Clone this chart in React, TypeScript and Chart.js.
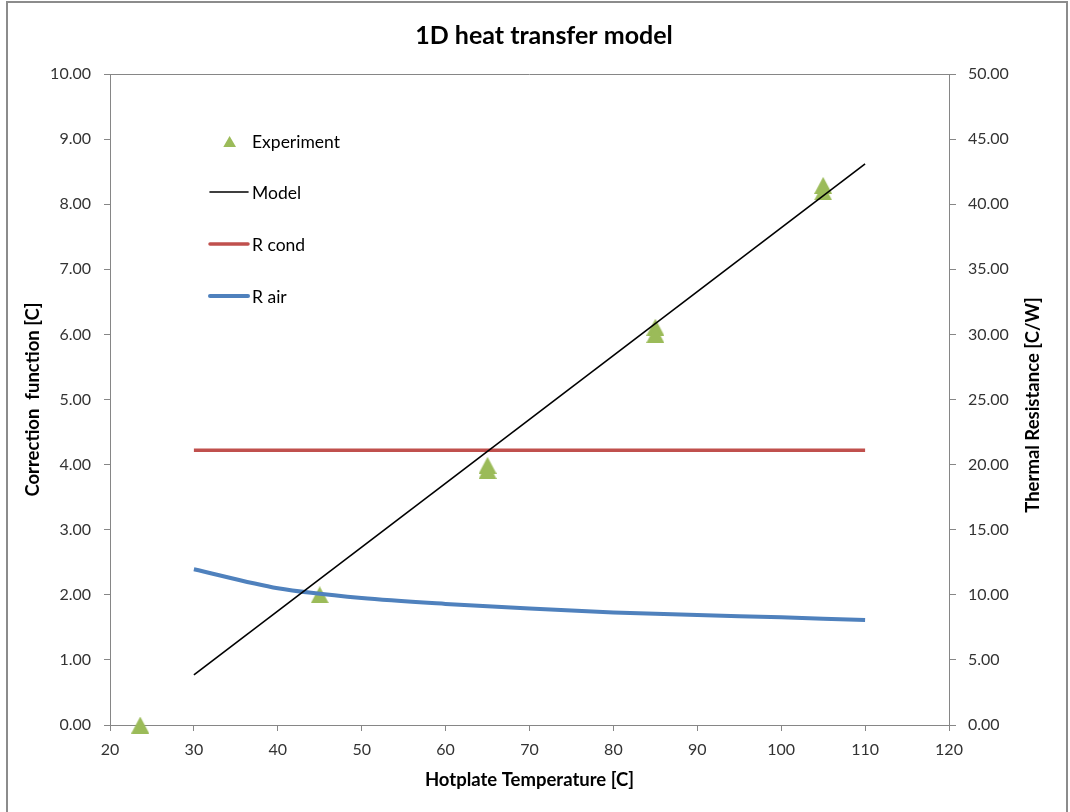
import React, { useEffect, useRef } from 'react';
import { Chart, registerables } from 'chart.js';

Chart.register(...registerables);

// ---- data ----
const chartTitle = '1D heat transfer model';
const xAxisTitle = 'Hotplate Temperature [C]';
const yLeftTitle = 'Correction  function [C]';
const yRightTitle = 'Thermal Resistance [C/W]';

const experimentTemps = [23.6, 45, 65, 65, 85, 85, 105, 105];
const experimentValues = [0.0, 2.0, 3.99, 3.91, 6.11, 6.0, 8.29, 8.19];

const modelTemps = [30, 110];
const modelValues = [0.77, 8.62];

const resistanceTemps = [30, 40, 50, 60, 70, 80, 90, 100, 110];
const rCondValues = [21.1, 21.1, 21.1, 21.1, 21.1, 21.1, 21.1, 21.1, 21.1];
const rAirValues = [11.96, 10.5, 9.75, 9.3, 8.95, 8.65, 8.45, 8.27, 8.06];

const legendLabels = ['Experiment', 'Model', 'R cond', 'R air'];

const FONT = 'Lato, "Open Sans", "DejaVu Sans", sans-serif';
const GREEN = '#9BBB59';
const RED = '#C0504D';
const BLUE = '#4F81BD';
const AXIS = '#868686';
const TEXT = '#333333';

function makeTriangle(w: number, h: number, color: string) {
  const c = document.createElement('canvas');
  c.width = w;
  c.height = h;
  const g = c.getContext('2d')!;
  g.fillStyle = color;
  g.beginPath();
  g.moveTo(0, h);
  g.lineTo(w / 2, 0);
  g.lineTo(w, h);
  g.closePath();
  g.fill();
  return c;
}

const decorPlugin = {
  id: 'decor',
  beforeDraw(chart: any) {
    const { ctx } = chart;
    ctx.save();
    ctx.fillStyle = '#ffffff';
    ctx.fillRect(0, 0, chart.width, chart.height);
    ctx.strokeStyle = '#8c8c8c';
    ctx.lineWidth = 2;
    ctx.strokeRect(7, 2, 1060, 830);
    ctx.restore();
  },
  afterDraw(chart: any) {
    const { ctx, chartArea } = chart;
    ctx.save();
    // top border of plot area
    ctx.strokeStyle = AXIS;
    ctx.lineWidth = 1;
    ctx.beginPath();
    ctx.moveTo(chartArea.left, chartArea.top + 0.5);
    ctx.lineTo(chartArea.right, chartArea.top + 0.5);
    ctx.stroke();

    // title
    ctx.fillStyle = '#000';
    ctx.font = `bold 25px ${FONT}`;
    ctx.textAlign = 'center';
    ctx.textBaseline = 'middle';
    ctx.fillText(chartTitle, 544, 36);

    // right axis title (reads bottom-to-top)
    ctx.save();
    ctx.translate(1033, 405);
    ctx.rotate(-Math.PI / 2);
    ctx.font = `bold 18.5px ${FONT}`;
    ctx.fillText(yRightTitle, 0, 0);
    ctx.restore();

    // legend
    const rows = [141, 192, 244, 296];
    ctx.font = `17.5px ${FONT}`;
    ctx.textAlign = 'left';
    const ds = chart.data.datasets;
    rows.forEach((y, i) => {
      if (i === 0) {
        ctx.fillStyle = GREEN;
        ctx.beginPath();
        ctx.moveTo(223.3, y + 6);
        ctx.lineTo(229.6, y - 5);
        ctx.lineTo(236, y + 6);
        ctx.closePath();
        ctx.fill();
      } else {
        const d = ds[i];
        ctx.strokeStyle = d.borderColor;
        ctx.lineWidth = d.borderWidth;
        ctx.lineCap = 'round';
        ctx.beginPath();
        ctx.moveTo(210, y);
        ctx.lineTo(248, y);
        ctx.stroke();
      }
      ctx.fillStyle = '#000';
      ctx.fillText(legendLabels[i], 252, y + 1);
    });
    ctx.restore();
  },
};

export default function App() {
  const ref = useRef<HTMLCanvasElement | null>(null);

  useEffect(() => {
    const canvas = ref.current;
    if (!canvas) return;
    const tri = makeTriangle(18, 17, GREEN);

    const tickFont = { family: FONT, size: 16 };
    const titleFont = { family: FONT, size: 18.5, weight: 'bold' as const };

    const chart = new Chart(canvas, {
      type: 'scatter',
      data: {
        datasets: [
          {
            label: legendLabels[0],
            data: experimentTemps.map((x, i) => ({ x, y: experimentValues[i] })),
            yAxisID: 'y',
            showLine: false,
            pointStyle: tri as any,
            pointRadius: 9,
            backgroundColor: GREEN,
            borderColor: GREEN,
            clip: false,
            order: 4,
          },
          {
            label: legendLabels[1],
            data: modelTemps.map((x, i) => ({ x, y: modelValues[i] })),
            yAxisID: 'y',
            showLine: true,
            borderColor: '#000000',
            borderWidth: 1.6,
            pointRadius: 0,
            order: 1,
          },
          {
            label: legendLabels[2],
            data: resistanceTemps.map((x, i) => ({ x, y: rCondValues[i] })),
            yAxisID: 'y2',
            showLine: true,
            borderColor: RED,
            borderWidth: 3.5,
            pointRadius: 0,
            order: 2,
          },
          {
            label: legendLabels[3],
            data: resistanceTemps.map((x, i) => ({ x, y: rAirValues[i] })),
            yAxisID: 'y2',
            showLine: true,
            borderColor: BLUE,
            borderWidth: 4,
            pointRadius: 0,
            tension: 0.3,
            order: 3,
          },
        ],
      },
      options: {
        responsive: false,
        animation: false,
        layout: { padding: { top: 74, left: 0, right: 0, bottom: 0 } },
        plugins: {
          legend: { display: false },
          title: { display: false },
          tooltip: { enabled: false },
        },
        scales: {
          x: {
            type: 'linear',
            min: 20,
            max: 120,
            ticks: { stepSize: 10, font: tickFont, color: TEXT, padding: 9 },
            grid: { drawOnChartArea: false, drawTicks: true, tickLength: 6, color: AXIS },
            border: { color: AXIS, width: 1 },
            title: {
              display: true,
              text: xAxisTitle,
              font: titleFont,
              color: '#000',
              padding: { top: 0, bottom: 21 },
            },
            afterFit: (s: any) => {
              s.height = 87;
            },
          },
          y: {
            type: 'linear',
            position: 'left',
            min: 0,
            max: 10,
            ticks: {
              stepSize: 1,
              font: tickFont,
              color: TEXT,
              padding: 13,
              callback: (v: any) => Number(v).toFixed(2),
            },
            grid: { drawOnChartArea: false, drawTicks: true, tickLength: 6, color: AXIS },
            border: { color: AXIS, width: 1 },
            title: {
              display: true,
              text: yLeftTitle,
              font: titleFont,
              color: '#000',
              padding: { top: 22, bottom: 0 },
            },
            afterFit: (s: any) => {
              s.width = 110;
            },
          },
          y2: {
            type: 'linear',
            position: 'right',
            min: 0,
            max: 50,
            ticks: {
              stepSize: 5,
              font: tickFont,
              color: TEXT,
              padding: 12,
              callback: (v: any) => Number(v).toFixed(2),
            },
            grid: { drawOnChartArea: false, drawTicks: true, tickLength: 7, color: AXIS },
            border: { color: AXIS, width: 1 },
            title: { display: false },
            afterFit: (s: any) => {
              s.width = 121;
            },
          },
        },
      },
      plugins: [decorPlugin],
    } as any);

    return () => chart.destroy();
  }, []);

  return (
    <div style={{ position: 'fixed', left: 0, top: 0, width: 1070, height: 812, background: '#fff' }}>
      <canvas ref={ref} width={1070} height={812} />
    </div>
  );
}
